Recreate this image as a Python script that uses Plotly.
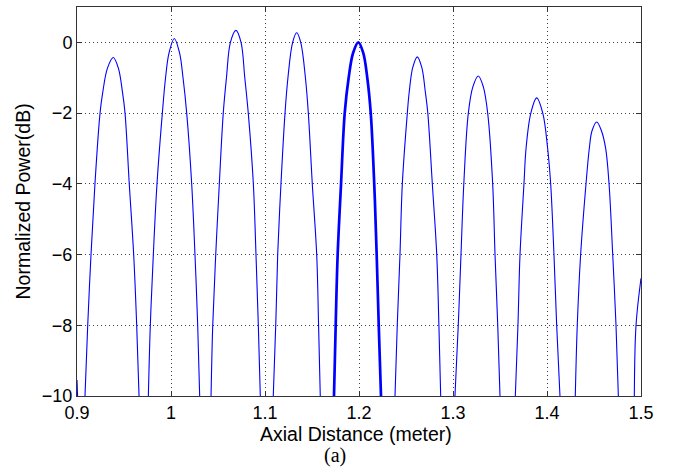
import plotly.graph_objects as go

# ---- data (x in meters, y in dB) ----
edge0_x = [0.9, 0.9006]
edge0_y = [-9.55, -10]

lobe1_x = [0.9085, 0.9114, 0.9149, 0.9191, 0.9245, 0.9273, 0.9324, 0.9386, 0.9440, 0.9485, 0.9511, 0.9556, 0.9603, 0.9635, 0.9660]
lobe1_y = [-10, -8, -6, -4, -2, -1.43, -0.73, -0.43, -0.73, -1.43, -2, -4, -6, -8, -10]

lobe2_x = [0.9759, 0.9780, 0.9812, 0.9851, 0.9908, 0.9942, 0.9979, 1.0035, 1.0091, 1.0128, 1.0167, 1.0220, 1.0255, 1.0284, 1.0305]
lobe2_y = [-10, -8, -6, -4, -2, -1, -0.3, 0.11, -0.3, -1, -2, -4, -6, -8, -10]

lobe3_x = [1.0426, 1.0444, 1.0476, 1.0514, 1.0556, 1.0590, 1.0632, 1.0691, 1.0745, 1.0785, 1.0822, 1.0876, 1.0904, 1.0929, 1.0950]
lobe3_y = [-10, -8, -6, -4, -2, -1, 0, 0.34, 0, -1, -2, -4, -6, -8, -10]

lobe4_x = [1.1088, 1.1114, 1.1135, 1.1170, 1.1213, 1.1244, 1.1294, 1.1337, 1.1380, 1.1430, 1.1461, 1.1503, 1.1550, 1.1570, 1.1588]
lobe4_y = [-10, -8, -6, -4, -2, -1, 0, 0.27, 0, -1, -2, -4, -6, -8, -10]

main_x = [1.1734, 1.1752, 1.1773, 1.1809, 1.1848, 1.1890, 1.1937, 1.1993, 1.2045, 1.2088, 1.2125, 1.2162, 1.2188, 1.2210, 1.2234]
main_y = [-10, -8, -6, -4, -2, -1, -0.3, 0, -0.3, -1, -2, -4, -6, -8, -10]

lobe6_x = [1.2383, 1.2407, 1.2436, 1.2461, 1.2514, 1.2534, 1.2572, 1.2620, 1.2668, 1.2706, 1.2732, 1.2780, 1.2827, 1.2850, 1.2869]
lobe6_y = [-10, -8, -6, -4, -2, -1.41, -0.71, -0.41, -0.71, -1.41, -2, -4, -6, -8, -10]

lobe7_x = [1.3021, 1.3056, 1.3085, 1.3115, 1.3163, 1.3212, 1.3269, 1.3322, 1.3369, 1.3422, 1.3447, 1.3476, 1.3500]
lobe7_y = [-10, -8, -6, -4, -2, -1.25, -0.95, -1.25, -2, -4, -6, -8, -10]

lobe8_x = [1.3663, 1.3691, 1.3713, 1.3755, 1.3777, 1.3828, 1.3890, 1.3955, 1.4007, 1.4039, 1.4074, 1.4103, 1.4138]
lobe8_y = [-10, -8, -6, -4, -3, -2, -1.57, -2, -3, -4, -6, -8, -10]

lobe9_x = [1.4301, 1.4322, 1.4358, 1.4415, 1.4450, 1.4479, 1.4529, 1.4579, 1.4624, 1.4660, 1.4699, 1.4734, 1.4759]
lobe9_y = [-10, -8, -6, -4, -3, -2.5, -2.25, -2.5, -3, -4, -6, -8, -10]

edge10_x = [1.4929, 1.4947, 1.5]
edge10_y = [-10, -8, -6.67]

x_ticks = [0.9, 1.0, 1.1, 1.2, 1.3, 1.4, 1.5]
x_tick_labels = ["0.9", "1", "1.1", "1.2", "1.3", "1.4", "1.5"]
y_ticks = [-10, -8, -6, -4, -2, 0]
y_tick_labels = ["\u221210", "\u22128", "\u22126", "\u22124", "\u22122", "0"]

BLUE = "rgb(0,0,255)"
SANS = "Liberation Sans, Arial, sans-serif"

fig = go.Figure()

thin = [(edge0_x, edge0_y), (lobe1_x, lobe1_y), (lobe2_x, lobe2_y), (lobe3_x, lobe3_y),
        (lobe4_x, lobe4_y), (lobe6_x, lobe6_y), (lobe7_x, lobe7_y), (lobe8_x, lobe8_y),
        (lobe9_x, lobe9_y), (edge10_x, edge10_y)]
for xs, ys in thin:
    fig.add_trace(go.Scatter(x=xs, y=ys, mode="lines",
                             line=dict(color=BLUE, width=1.1, shape="spline", smoothing=1.0),
                             showlegend=False, hoverinfo="skip"))

fig.add_trace(go.Scatter(x=main_x, y=main_y, mode="lines",
                         line=dict(color=BLUE, width=2.7, shape="spline", smoothing=1.0),
                         showlegend=False, hoverinfo="skip"))

axis_common = dict(
    showline=True, linecolor="#333333", linewidth=1, mirror="ticks",
    ticks="inside", ticklen=5, tickcolor="#333333",
    showgrid=True, gridcolor="rgba(0,0,0,0.75)", gridwidth=1, griddash="1px,3px",
    zeroline=False,
    tickfont=dict(family=SANS, size=18, color="black"),
)

fig.update_xaxes(range=[0.9, 1.5], tickvals=x_ticks, ticktext=x_tick_labels, **axis_common)
fig.update_yaxes(range=[-10, 1], tickvals=y_ticks, ticktext=y_tick_labels, **axis_common)

fig.update_layout(
    width=673, height=475,
    margin=dict(l=77, r=32, t=7, b=79),
    plot_bgcolor="white", paper_bgcolor="white",
    showlegend=False,
    annotations=[
        dict(text="Axial Distance (meter)", xref="paper", yref="paper", x=0.494, y=-0.0985,
             xanchor="center", yanchor="middle", showarrow=False,
             font=dict(family=SANS, size=19.5, color="black")),
        dict(text="Normalized Power(dB)", xref="paper", yref="paper", x=-0.0975, y=0.5,
             xanchor="center", yanchor="middle", showarrow=False, textangle=-90,
             font=dict(family=SANS, size=19.5, color="black")),
        dict(text="(a)", xref="paper", yref="paper", x=0.458, y=-0.152,
             xanchor="center", yanchor="middle", showarrow=False,
             font=dict(family="Liberation Serif, Times New Roman, serif", size=20, color="black")),
    ],
)

fig.write_html("out.html")
